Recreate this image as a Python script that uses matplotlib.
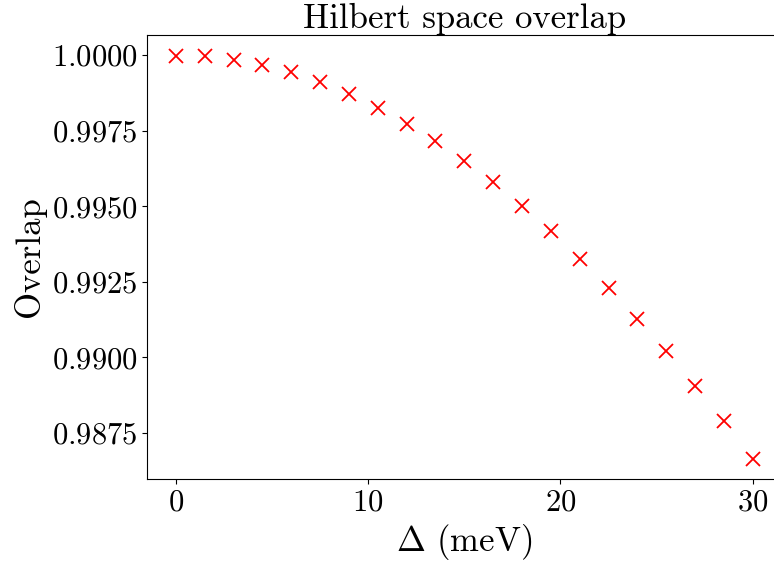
import numpy as np
import matplotlib
matplotlib.use("Agg")
import matplotlib.pyplot as plt

# detuning values (meV) and the overlap
delta = [0, 1.5, 3, 4.5, 6, 7.5, 9, 10.5, 12, 13.5, 15,
         16.5, 18, 19.5, 21, 22.5, 24, 25.5, 27, 28.5, 30]
overlap = [0.99998, 0.99996, 0.99984, 0.99967, 0.99943, 0.99912, 0.99873,
           0.99827, 0.99774, 0.99717, 0.99651, 0.99579, 0.99502, 0.99418,
           0.99327, 0.99230, 0.99127, 0.99020, 0.98907, 0.98789, 0.98665]

yticks = [0.9875, 0.9900, 0.9925, 0.9950, 0.9975, 1.0000]
xticks = [0, 10, 20, 30]

plt.rcParams["font.family"] = "serif"
plt.rcParams["font.serif"] = ["cmr10"]
plt.rcParams["mathtext.fontset"] = "cm"
plt.rcParams["axes.formatter.use_mathtext"] = True

fig = plt.figure(figsize=(7.74, 5.70), dpi=100)
# axes runs past the right edge, as in the cropped original
ax = fig.add_axes([147 / 774, 91 / 570, 634.6 / 774, 444 / 570])

ax.plot(delta, overlap, "x", color="red", markersize=10, markeredgewidth=1.3)

ax.set_xticks(xticks)
ax.set_yticks(yticks)
ax.set_xlim(-1.5, 31.5)
ax.set_ylim(0.98598, 1.00067)
ax.tick_params(labelsize=22)

ax.set_xlabel(r"$\Delta$ (meV)", fontsize=25)
ax.set_ylabel("Overlap", fontsize=25)
ax.set_title("Hilbert space overlap", fontsize=25, pad=4)

fig.savefig("out.png", dpi=100)
